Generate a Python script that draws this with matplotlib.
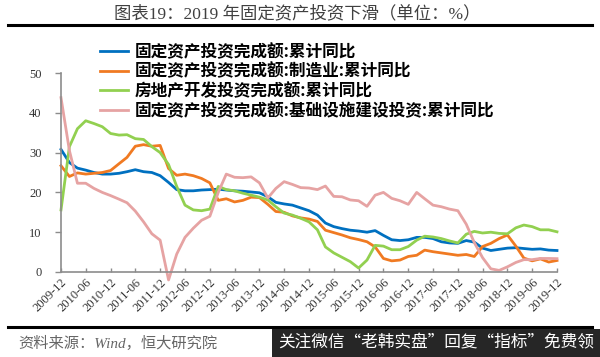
import pandas as pd
import matplotlib
matplotlib.use('Agg')
import matplotlib.pyplot as plt
from matplotlib.lines import Line2D
from matplotlib.patches import Rectangle

# Fechas (cada 2 meses) y etiquetas del eje x
fechas = pd.date_range('2009-12-01', '2019-12-01', freq='2MS')
fechas_ticks = pd.date_range('2009-12-01', '2019-12-01', freq='6MS')
etiquetas_x = [f.strftime('%Y-%m') for f in fechas_ticks]

nombres = [
    '固定资产投资完成额:累计同比',
    '固定资产投资完成额:制造业:累计同比',
    '房地产开发投资完成额:累计同比',
    '固定资产投资完成额:基础设施建设投资:累计同比',
]

total = [30.8, 27.5, 26.1, 25.6, 25.0, 24.6, 24.6, 24.8, 25.2, 25.7,
         25.2, 25.0, 24.2, 22.5, 20.7, 20.4, 20.4, 20.6, 20.7, 20.8,
         20.6, 20.4, 20.3, 20.1, 19.9, 18.9, 17.5, 17.1, 16.8, 16.1,
         15.4, 14.3, 12.3, 11.4, 10.9, 10.5, 10.3, 10.0, 10.4, 9.2,
         8.1, 7.9, 8.1, 8.7, 8.7, 8.4, 7.6, 7.3, 7.2, 7.9,
         7.5, 6.0, 5.4, 5.7, 6.0, 6.1, 5.9, 5.7, 5.8, 5.5, 5.4]

manufactura = [26.7, 24.0, 24.9, 24.6, 24.8, 25.0, 25.5, 27.2, 28.8, 31.6,
               32.0, 31.6, 31.8, 26.0, 24.3, 24.6, 24.2, 23.5, 22.4, 18.0,
               18.4, 17.6, 18.0, 18.8, 18.7, 17.0, 15.2, 15.0, 14.1, 13.6,
               13.3, 12.7, 10.5, 9.9, 9.3, 8.6, 8.15, 7.6, 6.3, 3.4,
               2.8, 3.0, 3.9, 4.2, 5.5, 5.1, 4.8, 4.5, 4.2, 4.4,
               3.9, 6.4, 7.2, 8.4, 9.3, 6.5, 3.5, 2.8, 3.3, 2.5, 2.9]

inmobiliario = [15.6, 31.5, 36.0, 38.0, 37.3, 36.5, 34.8, 34.4, 34.5, 33.5,
                33.3, 31.5, 30.0, 27.0, 21.5, 16.8, 15.6, 15.4, 15.8, 21.5,
                20.7, 20.4, 19.8, 19.3, 18.8, 18.1, 16.4, 14.8, 14.3, 13.5,
                12.6, 10.6, 6.3, 4.8, 3.7, 2.6, 1.0, 3.0, 6.7, 6.5,
                5.6, 5.6, 6.4, 8.0, 9.0, 8.8, 8.4, 7.8, 7.3, 9.5,
                10.2, 9.8, 10.0, 9.7, 9.6, 11.1, 11.8, 11.4, 10.6, 10.6, 10.1]

infraestructura = [43.8, 30.5, 22.3, 22.3, 21.0, 20.0, 19.2, 18.3, 17.4, 15.3,
                   12.6, 9.6, 8.0, -2.0, 4.5, 8.7, 11.0, 13.0, 14.0, 20.0,
                   24.6, 23.8, 23.7, 23.9, 22.4, 18.6, 21.0, 22.7, 22.0, 21.2,
                   21.1, 20.7, 21.6, 19.0, 18.9, 18.1, 17.9, 16.5, 19.3, 20.0,
                   18.5, 17.9, 17.0, 20.0, 18.4, 16.8, 16.4, 15.8, 15.4, 12.0,
                   7.4, 3.6, 0.8, 0.4, 1.3, 2.4, 3.1, 3.1, 3.4, 3.4, 3.35]

colores = ['#0070C0', '#F07A22', '#92D050', '#E6A3A3']
series = [total, manufactura, inmobiliario, infraestructura]

cjk = ['Noto Sans CJK SC']
serif_cjk = ['Liberation Serif', 'Noto Sans CJK SC']

W, H = 600, 357
fig = plt.figure(figsize=(W / 100, H / 100), dpi=100)
ax = fig.add_axes([61 / W, 1 - 272 / H, (557 - 61) / W, (272 - 73) / H])

for serie, color, nombre in zip(series, colores, nombres):
    ax.plot(fechas, serie, color=color, lw=2.0, label=nombre, clip_on=False,
            solid_joinstyle='round')

ax.set_xlim(fechas[0], fechas[-1])
ax.set_ylim(0, 50)
ax.set_yticks(range(0, 51, 10))
ax.set_xticks(fechas_ticks)
ax.set_xticklabels(etiquetas_x, rotation=45, ha='right', rotation_mode='anchor',
                   family='Liberation Serif')
for lbl in ax.get_yticklabels():
    lbl.set_family('Liberation Serif')

for s in ['top', 'right']:
    ax.spines[s].set_visible(False)
for s in ['left', 'bottom']:
    ax.spines[s].set_color('#8c8c8c')
    ax.spines[s].set_linewidth(1.2)

ax.tick_params(axis='y', direction='out', length=4, width=1, color='#8c8c8c',
               pad=10, labelsize=9, labelcolor='#333333')
ax.tick_params(axis='x', direction='in', length=3, width=1, color='#8c8c8c',
               pad=3, labelsize=9, labelcolor='#333333')

# Leyenda arriba
fig.legend(loc='upper left', bbox_to_anchor=(100 / W, 1 - 43 / H),
           frameon=False, prop={'family': cjk, 'size': 12, 'weight': 'bold'},
           handlelength=1.65, handletextpad=0.45, labelspacing=0.1,
           borderpad=0, borderaxespad=0)

# Titulo y lineas negras
fig.text(297 / W, 1 - 14 / H, '图表19：2019 年固定资产投资下滑（单位：%）',
         ha='center', va='center', fontsize=12.5, family=serif_cjk, color='#404040')
fig.add_artist(Line2D([8 / W, 592 / W], [1 - 25 / H] * 2, color='black', lw=2.2))
fig.add_artist(Line2D([8 / W, 592 / W], [1 - 327 / H] * 2, color='black', lw=2.2))

# Fuente y recuadro inferior
fig.text(18 / W, 1 - 343 / H, '资料来源：Wind，恒大研究院', ha='left', va='center',
         fontsize=11, family=serif_cjk, style='italic', color='#666666')
fig.add_artist(Rectangle((272 / W, 0), (W - 272) / W, (H - 329) / H,
                         transform=fig.transFigure, color='#262626', lw=0))
fig.text((272 + W) / 2 / W, 1 - 343 / H, '关注微信“老韩实盘”回复“指标”免费领',
         ha='center', va='center', fontsize=12, family=cjk, color='white')

plt.savefig('out.png', dpi=100)
plt.close()
